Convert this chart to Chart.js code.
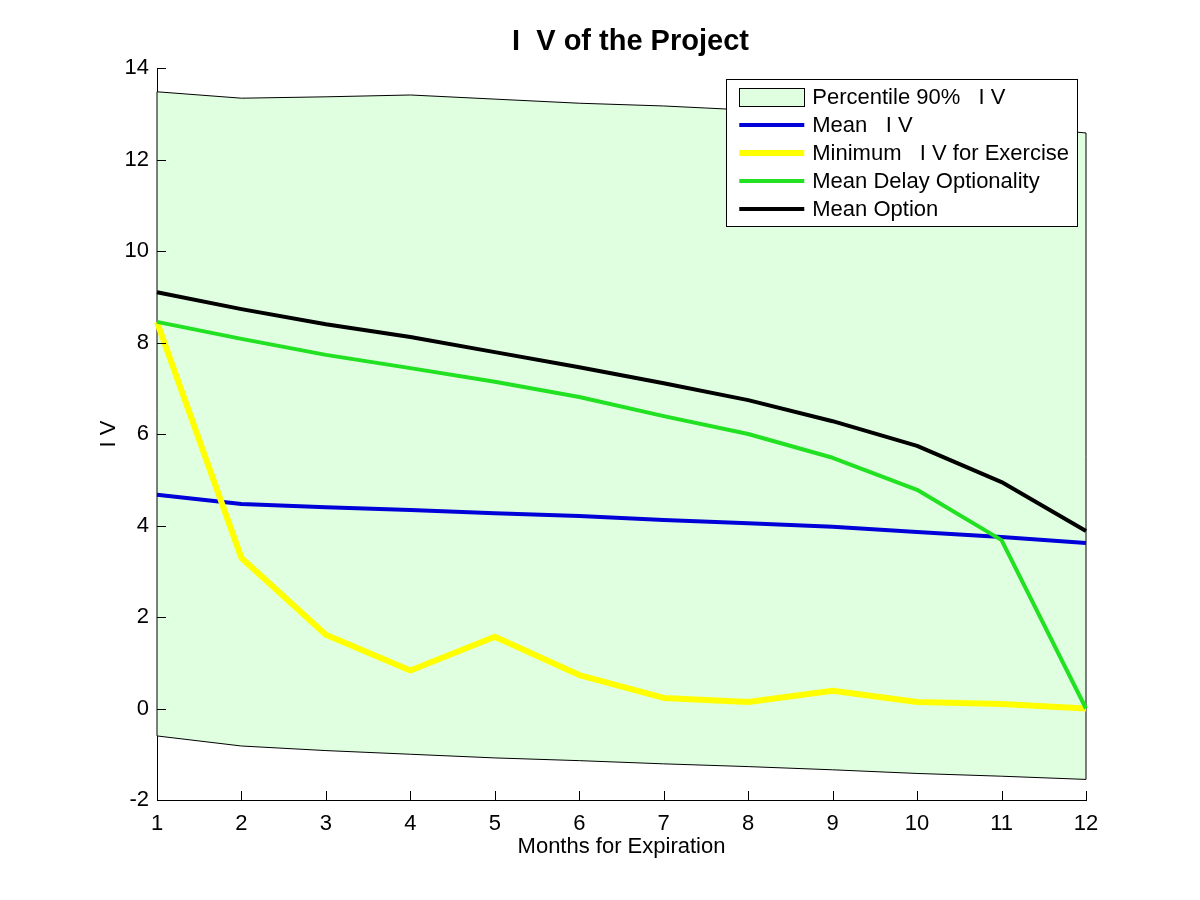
<!DOCTYPE html>
<html>
<head>
<meta charset="utf-8">
<title>I V of the Project</title>
<script src="https://cdn.jsdelivr.net/npm/chart.js@4/dist/chart.umd.min.js"></script>
<style>
  html, body { margin: 0; padding: 0; background: #ffffff; }
  #wrap { width: 1200px; height: 900px; }
</style>
</head>
<body>
<div id="wrap"><canvas id="grafico" width="1200" height="900"></canvas></div>
<script>
// months on the x axis
const meses = [1, 2, 3, 4, 5, 6, 7, 8, 9, 10, 11, 12];

// 90% percentile band (upper / lower edges)
const percentilSup = [13.48, 13.34, 13.37, 13.41, 13.32, 13.23, 13.17, 13.08, 12.98, 12.88, 12.74, 12.58];
const percentilInf = [-0.60, -0.82, -0.92, -1.00, -1.08, -1.14, -1.21, -1.27, -1.34, -1.42, -1.48, -1.55];

const mediaIV = [4.67, 4.47, 4.40, 4.34, 4.27, 4.21, 4.12, 4.05, 3.97, 3.86, 3.75, 3.62];
const minimoExercicio = [8.45, 3.29, 1.61, 0.83, 1.57, 0.73, 0.23, 0.14, 0.39, 0.14, 0.10, 0.00];
const mediaDelay = [8.45, 8.08, 7.73, 7.44, 7.14, 6.81, 6.39, 6.00, 5.48, 4.78, 3.68, 0.00];
const mediaOpcao = [9.10, 8.73, 8.40, 8.12, 7.79, 7.46, 7.11, 6.74, 6.28, 5.74, 4.95, 3.88];

const ticksY = [-2, 0, 2, 4, 6, 8, 10, 12, 14];

const titulo = 'I  V of the Project';
const fonte = "'Liberation Sans', Arial, Helvetica, sans-serif";
const corFaixa = '#e0ffe0';

// legend entries, in the original order
const legenda = [
  { texto: 'Percentile 90%   I V', tipo: 'box', cor: corFaixa },
  { texto: 'Mean   I V', tipo: 'line', cor: '#0000d8', largura: 4 },
  { texto: 'Minimum   I V for Exercise', tipo: 'line', cor: '#ffff00', largura: 6 },
  { texto: 'Mean Delay Optionality', tipo: 'line', cor: '#22e022', largura: 4 },
  { texto: 'Mean Option', tipo: 'line', cor: '#000000', largura: 4 }
];

// title over the axes, like MATLAB does
const tituloEixos = {
  id: 'tituloEixos',
  afterDraw(chart) {
    const ctx = chart.ctx;
    const area = chart.chartArea;
    ctx.save();
    ctx.font = 'bold 29px ' + fonte;
    ctx.fillStyle = '#000000';
    ctx.textAlign = 'center';
    ctx.textBaseline = 'alphabetic';
    ctx.fillText(titulo, (area.left + area.right) / 2 + 9, area.top - 18);
    ctx.restore();
  }
};

// MATLAB style ticks pointing inside the axes
const ticksParaDentro = {
  id: 'ticksParaDentro',
  afterDraw(chart) {
    const ctx = chart.ctx;
    const x = chart.scales.x;
    const y = chart.scales.y;
    const area = chart.chartArea;
    ctx.save();
    ctx.strokeStyle = '#000000';
    ctx.lineWidth = 1;
    ctx.beginPath();
    for (let i = 0; i < meses.length; i++) {
      const px = Math.round(x.getPixelForValue(i)) + 0.5;
      ctx.moveTo(px, area.bottom);
      ctx.lineTo(px, area.bottom - 9);
    }
    for (let i = 0; i < ticksY.length; i++) {
      const py = Math.round(y.getPixelForValue(ticksY[i])) + 0.5;
      ctx.moveTo(area.left, py);
      ctx.lineTo(area.left + 9, py);
    }
    ctx.stroke();
    ctx.restore();
  }
};

// closing edges of the percentile patch (left and right sides)
const bordasFaixa = {
  id: 'bordasFaixa',
  afterDatasetDraw(chart, args) {
    if (args.index !== 1) return;
    const ctx = chart.ctx;
    const x = chart.scales.x;
    const y = chart.scales.y;
    const ult = meses.length - 1;
    ctx.save();
    ctx.strokeStyle = '#000000';
    ctx.lineWidth = 1;
    ctx.beginPath();
    ctx.moveTo(x.getPixelForValue(0), y.getPixelForValue(percentilSup[0]));
    ctx.lineTo(x.getPixelForValue(0), y.getPixelForValue(percentilInf[0]));
    ctx.moveTo(x.getPixelForValue(ult), y.getPixelForValue(percentilSup[ult]));
    ctx.lineTo(x.getPixelForValue(ult), y.getPixelForValue(percentilInf[ult]));
    ctx.stroke();
    ctx.restore();
  }
};

// boxed legend inside the upper right corner
const legendaCaixa = {
  id: 'legendaCaixa',
  afterDraw(chart) {
    const ctx = chart.ctx;
    const area = chart.chartArea;
    ctx.save();
    ctx.font = '22px ' + fonte;
    let maior = 0;
    legenda.forEach(item => { maior = Math.max(maior, ctx.measureText(item.texto).width); });
    const linha = 28;
    const largura = 13 + 65 + 8 + maior + 8;
    const altura = legenda.length * linha + 7;
    const direita = area.right - 9;
    const esquerda = direita - largura;
    const topo = area.top + 11;
    ctx.fillStyle = '#ffffff';
    ctx.fillRect(esquerda, topo, largura, altura);
    ctx.strokeStyle = '#000000';
    ctx.lineWidth = 1;
    ctx.strokeRect(Math.round(esquerda) + 0.5, Math.round(topo) + 0.5, Math.round(largura), Math.round(altura));
    legenda.forEach((item, i) => {
      const cy = topo + 18 + i * linha;
      const x0 = esquerda + 13;
      if (item.tipo === 'box') {
        ctx.fillStyle = item.cor;
        ctx.fillRect(x0, cy - 9, 65, 18);
        ctx.strokeStyle = '#000000';
        ctx.lineWidth = 1;
        ctx.strokeRect(Math.round(x0) + 0.5, Math.round(cy - 9) + 0.5, 65, 18);
      } else {
        ctx.strokeStyle = item.cor;
        ctx.lineWidth = item.largura;
        ctx.beginPath();
        ctx.moveTo(x0, cy);
        ctx.lineTo(x0 + 65, cy);
        ctx.stroke();
      }
      ctx.fillStyle = '#000000';
      ctx.textBaseline = 'middle';
      ctx.textAlign = 'left';
      ctx.fillText(item.texto, x0 + 65 + 8, cy + 1);
    });
    ctx.restore();
  }
};

const ctx = document.getElementById('grafico');

new Chart(ctx, {
  type: 'line',
  data: {
    labels: meses,
    datasets: [
      {
        label: 'Percentile 90%   I V',
        data: percentilSup,
        borderColor: '#000000',
        borderWidth: 1,
        backgroundColor: corFaixa,
        fill: '+1',
        order: 6
      },
      {
        label: 'Percentile 90% (lower)',
        data: percentilInf,
        borderColor: '#000000',
        borderWidth: 1,
        fill: false,
        order: 5
      },
      {
        label: 'Mean   I V',
        data: mediaIV,
        borderColor: '#0000d8',
        borderWidth: 4,
        fill: false,
        order: 4
      },
      {
        label: 'Minimum   I V for Exercise',
        data: minimoExercicio,
        borderColor: '#ffff00',
        borderWidth: 6,
        fill: false,
        order: 3
      },
      {
        label: 'Mean Delay Optionality',
        data: mediaDelay,
        borderColor: '#22e022',
        borderWidth: 4,
        fill: false,
        order: 2
      },
      {
        label: 'Mean Option',
        data: mediaOpcao,
        borderColor: '#000000',
        borderWidth: 4,
        fill: false,
        order: 1
      }
    ]
  },
  options: {
    responsive: false,
    maintainAspectRatio: false,
    animation: false,
    devicePixelRatio: 1,
    layout: {
      padding: { left: 0, right: 114, top: 68, bottom: 0 }
    },
    elements: {
      point: { radius: 0, hoverRadius: 0 },
      line: { tension: 0, borderJoinStyle: 'round', borderCapStyle: 'butt' }
    },
    datasets: {
      line: { clip: false }
    },
    plugins: {
      legend: { display: false },
      tooltip: { enabled: false },
      title: { display: false }
    },
    scales: {
      x: {
        type: 'category',
        offset: false,
        grid: { display: false },
        border: { display: true, color: '#000000', width: 1 },
        ticks: {
          color: '#000000',
          font: { family: fonte, size: 22 },
          padding: 3,
          maxRotation: 0,
          autoSkip: false
        },
        title: {
          display: true,
          text: 'Months for Expiration',
          color: '#000000',
          font: { family: fonte, size: 22 },
          padding: { top: 0, bottom: 40 }
        },
        afterFit(scale) { scale.height = 100; }
      },
      y: {
        type: 'linear',
        min: -2,
        max: 14,
        grid: { display: false },
        border: { display: true, color: '#000000', width: 1 },
        afterBuildTicks(scale) { scale.ticks = ticksY.map(v => ({ value: v })); },
        ticks: {
          color: '#000000',
          font: { family: fonte, size: 22 },
          padding: 0
        },
        title: {
          display: true,
          text: 'I V',
          color: '#000000',
          font: { family: fonte, size: 22 },
          padding: { top: 96, bottom: 0 }
        },
        afterFit(scale) { scale.width = 157; }
      }
    }
  },
  plugins: [ticksParaDentro, bordasFaixa, legendaCaixa, tituloEixos]
});
</script>
</body>
</html>
